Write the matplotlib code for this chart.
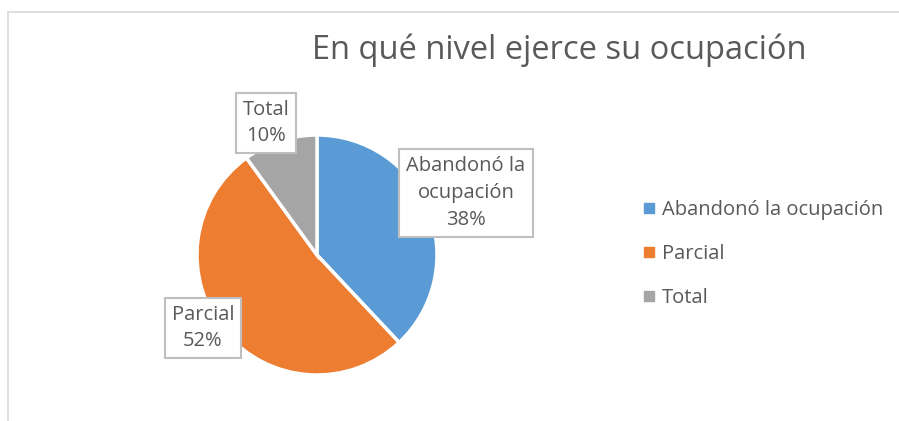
import matplotlib
matplotlib.use("Agg")
import matplotlib.pyplot as plt
from matplotlib.lines import Line2D
import numpy as np

categories = ["Abandonó la ocupación", "Parcial", "Total"]
values = [38, 52, 10]
label_texts = ["Abandonó la\nocupación\n38%", "Parcial\n52%", "Total\n10%"]
title = "En qué nivel ejerce su ocupación"

colors = ["#5B9BD5", "#ED7D31", "#A5A5A5"]
text_color = "#595959"
plt.rcParams['font.family'] = ['Open Sans', 'DejaVu Sans']

W, H = 899, 421
fig = plt.figure(figsize=(W / 100, H / 100), dpi=100)
fig.patch.set_facecolor("white")

# chart area border (top and left visible)
fig.add_artist(Line2D([8 / W, 8 / W], [0, 1 - 12 / H], transform=fig.transFigure,
                      color="#D9D9D9", lw=1.2))
fig.add_artist(Line2D([8 / W, 1], [1 - 12 / H, 1 - 12 / H], transform=fig.transFigure,
                      color="#D9D9D9", lw=1.2))

cx, cy, r = 317, 421 - 255, 120
ax = fig.add_axes([(cx - r) / W, (cy - r) / H, 2 * r / W, 2 * r / H])
wedges, _ = ax.pie(values, colors=colors, startangle=90, counterclock=False,
                   wedgeprops=dict(edgecolor="white", linewidth=2.5))
ax.set_xlim(-1, 1)
ax.set_ylim(-1, 1)
ax.set_aspect("equal")

# label positions (pixel centres of the data label boxes)
label_pos = [(466, 193), (203, 328), (266, 123)]
for txt, (px, py) in zip(label_texts, label_pos):
    fig.text(px / W, 1 - py / H, txt, ha="center", va="center", fontsize=14.5,
             color=text_color, linespacing=1.45,
             bbox=dict(boxstyle="square,pad=0.35", fc="white", ec="#BFBFBF", lw=1.5))

fig.text(559 / W, 1 - 50 / H, title, ha="center", va="center", fontsize=23.5,
         color=text_color)

handles = [Line2D([], [], marker="s", linestyle="none", markersize=7.5,
                  markerfacecolor=c, markeredgecolor=c) for c in colors]
leg = fig.legend(handles, categories, loc="center left",
                 bbox_to_anchor=(621 / W, 1 - 254 / H), frameon=False,
                 fontsize=14.5, labelcolor=text_color, handletextpad=0.15,
                 handlelength=1.0, labelspacing=1.2)

fig.savefig("out.png", dpi=100)
